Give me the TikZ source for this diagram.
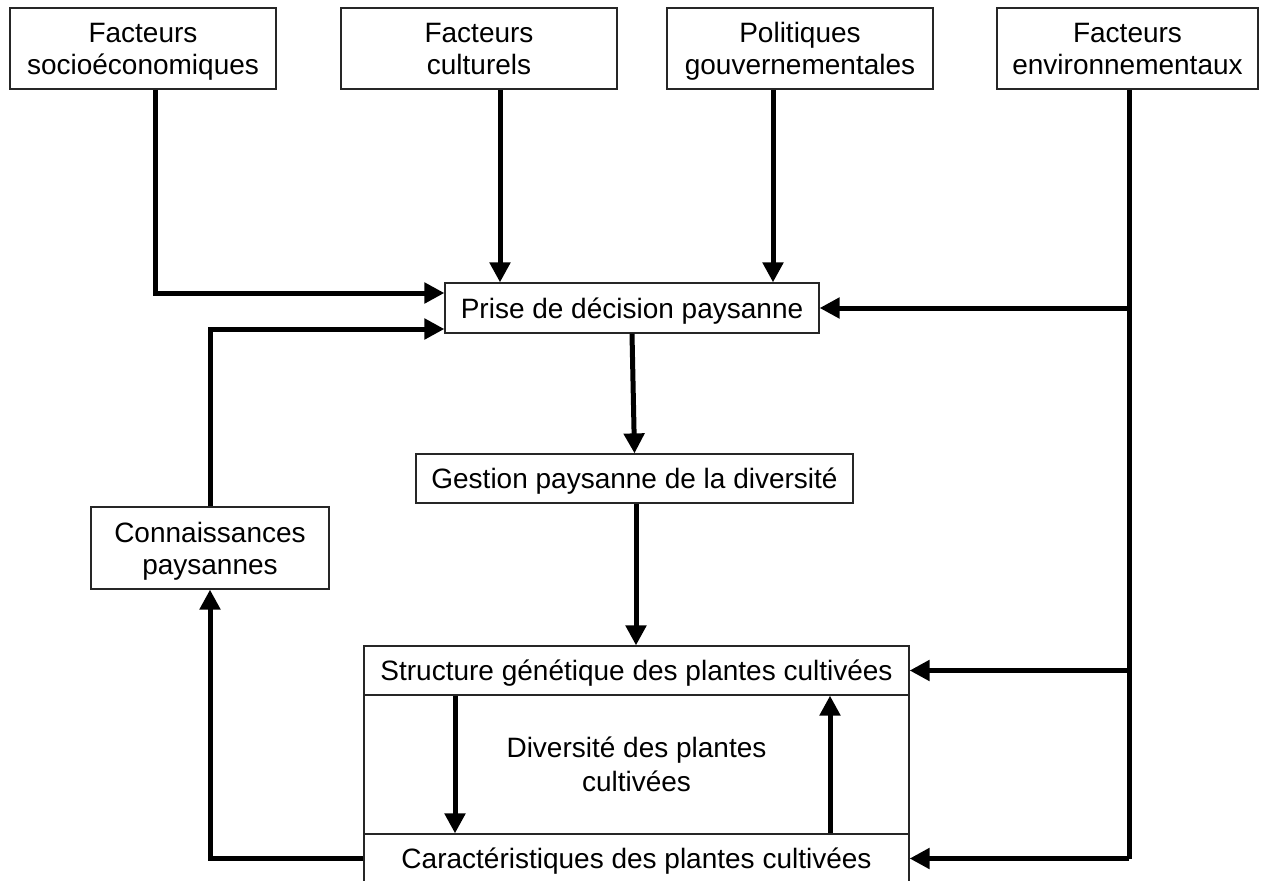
\documentclass[tikz,border=0pt]{standalone}
\usepackage{fontspec}
\setmainfont{Liberation Sans}
\usetikzlibrary{arrows.meta}
\begin{document}
\begin{tikzpicture}[x=1pt,y=-1pt,
 box/.style={draw=black!85, line width=1.2pt, inner sep=0pt, align=center, fill=white,
   text depth=0pt, font=\fontsize{28}{32}\selectfont},
 conn/.style={line width=5pt, -{Triangle[length=20pt,width=20pt]}},
 plainline/.style={line width=5pt}]
\useasboundingbox (0,0) rectangle (1264,881);
\clip (0,0) rectangle (1264,881);
% top boxes
\node[box, minimum width=266pt, minimum height=81pt] (f1) at (143,48.5) {Facteurs\\socioéconomiques};
\node[box, minimum width=276pt, minimum height=81pt] (f2) at (479,48.5) {Facteurs\\culturels};
\node[box, minimum width=266pt, minimum height=81pt] (f3) at (800,48.5) {Politiques\\gouvernementales};
\node[box, minimum width=261pt, minimum height=81pt] (f4) at (1127.5,48.5) {Facteurs\\environnementaux};
% middle
\node[box, minimum width=374pt, minimum height=50pt] (prise) at (632,308) {Prise de décision paysanne};
\node[box, minimum width=437pt, minimum height=49pt] (gest) at (634.5,478.5) {Gestion paysanne de la diversité};
\node[box, minimum width=238pt, minimum height=82pt] (conn) at (210,548) {Connaissances\\paysannes};
% bottom block
\node[box, minimum width=545pt, minimum height=139pt, font=\fontsize{28}{34}\selectfont] (div) at (636.5,764.5) {Diversité des plantes\\cultivées};
\node[box, minimum width=545pt, minimum height=49pt] (struct) at (636.5,670.5) {Structure génétique des plantes cultivées};
\node[box, minimum width=545pt, minimum height=49pt] (caract) at (636.5,858.5) {Caractéristiques des plantes cultivées};
% connectors from top
\draw[conn] ([xshift=12pt]f1.south) |- ([yshift=15pt]prise.west);
\draw[conn] ([xshift=21pt]f2.south) -- ([xshift=21pt]f2.south |- prise.north);
\draw[conn] ([xshift=-27pt]f3.south) -- ([xshift=-27pt]f3.south |- prise.north);
\coordinate (env) at ([xshift=1.5pt]f4.south);
\draw[plainline] (env) -- (env |- caract.east);
\draw[conn] (env |- prise.east) -- (prise.east);
\draw[conn] (env |- struct.east) -- (struct.east);
\draw[conn] (env |- caract.east) -- (caract.east);
% feedback loop
\draw[conn] (conn.north) |- ([yshift=-21pt]prise.west);
\draw[conn] (caract.west) -| (conn.south);
% vertical chain
\draw[conn] (prise.south) -- (gest.north);
\draw[conn] ([xshift=1.5pt]gest.south) -- ([xshift=1.5pt]gest.south |- struct.north);
\draw[conn] ([xshift=-181.5pt]struct.south) -- ([xshift=-181.5pt]caract.north);
\draw[conn] ([xshift=193.5pt]caract.north) -- ([xshift=193.5pt]struct.south);
\end{tikzpicture}
\end{document}
